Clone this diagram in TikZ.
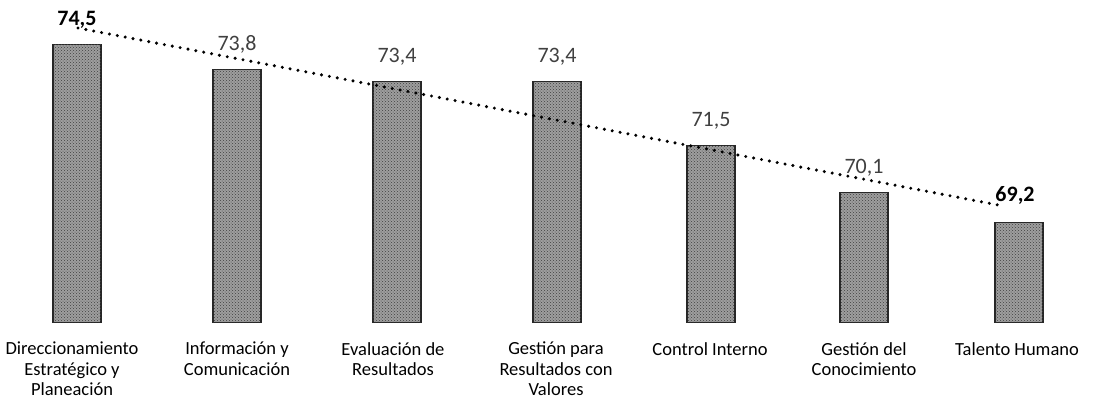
\documentclass[tikz,border=0pt]{standalone}
\usepackage{fontspec}
\setmainfont{Carlito}
\usepackage{tikz}
\usetikzlibrary{calc}
\usetikzlibrary{positioning}
\usetikzlibrary{patterns}
\tikzset{bar/.style = {draw=black!85, line width=1.3pt, fill=black!38, postaction={pattern=crosshatch dots, pattern color=black!75}, inner sep=0pt, anchor=south, minimum width=48pt}}
\tikzset{val/.style = {font=\fontsize{22}{24}\selectfont, text=black!75, anchor=base, inner sep=0pt}}
\tikzset{cat/.style = {font=\fontsize{18.5}{20.5}\selectfont, align=center, anchor=north, inner sep=0pt}}
\tikzset{trend/.style = {black, line width=3.4pt, line cap=round, dash pattern=on 0pt off 8pt}}

\begin{document}
\begin{tikzpicture}[x=1pt,y=-1pt]
                    \useasboundingbox (0,0) rectangle (1104,400);

                    % Bars
                    \foreach \x/\h/\n in {77/278/A, 237/253/B, 397/241/C, 557/241/D, 711/177/E, 864/130/F, 1019/100/G}
                        \node [bar, minimum height=\h pt] (\n) at (\x,323) {};

                    % Values above the bars
                    \node [val, font=\fontsize{22}{24}\selectfont\bfseries, text=black] (vA) at ($(A.north)+(0,-18)$) {74,5};
                    \node [val] (vB) at ($(B.north)+(0,-18)$) {73,8};
                    \node [val] (vC) at ($(C.north)+(0,-18)$) {73,4};
                    \node [val] (vD) at ($(D.north)+(0,-18)$) {73,4};
                    \node [val] (vE) at ($(E.north)+(0,-18)$) {71,5};
                    \node [val] (vF) at ($(F.north)+(0,-18)$) {70,1};
                    \node [val, font=\fontsize{22}{24}\selectfont\bfseries, text=black] (vG) at ($(G.north)+(-4,-20)$) {69,2};

                    % Category names
                    \node [cat] (cA) at (72,342) {Direccionamiento\\Estratégico y\\Planeación};
                    \node [cat] (cB) at (237,342) {Información y\\Comunicación};
                    \node [cat] (cC) at (393,342) {Evaluación de\\Resultados};
                    \node [cat] (cD) at (556,342) {Gestión para\\Resultados con\\Valores};
                    \node [cat] (cE) at (710,342) {Control Interno};
                    \node [cat] (cF) at (864,342) {Gestión del\\Conocimiento};
                    \node [cat] (cG) at (1017,342) {Talento Humano};

                    % Trend line
                    \coordinate (tA) at (78,28);
                    \coordinate (tG) at (998,205);
                    \draw [trend] (tA) -- (tG);
                 \end{tikzpicture}
\end{document}
